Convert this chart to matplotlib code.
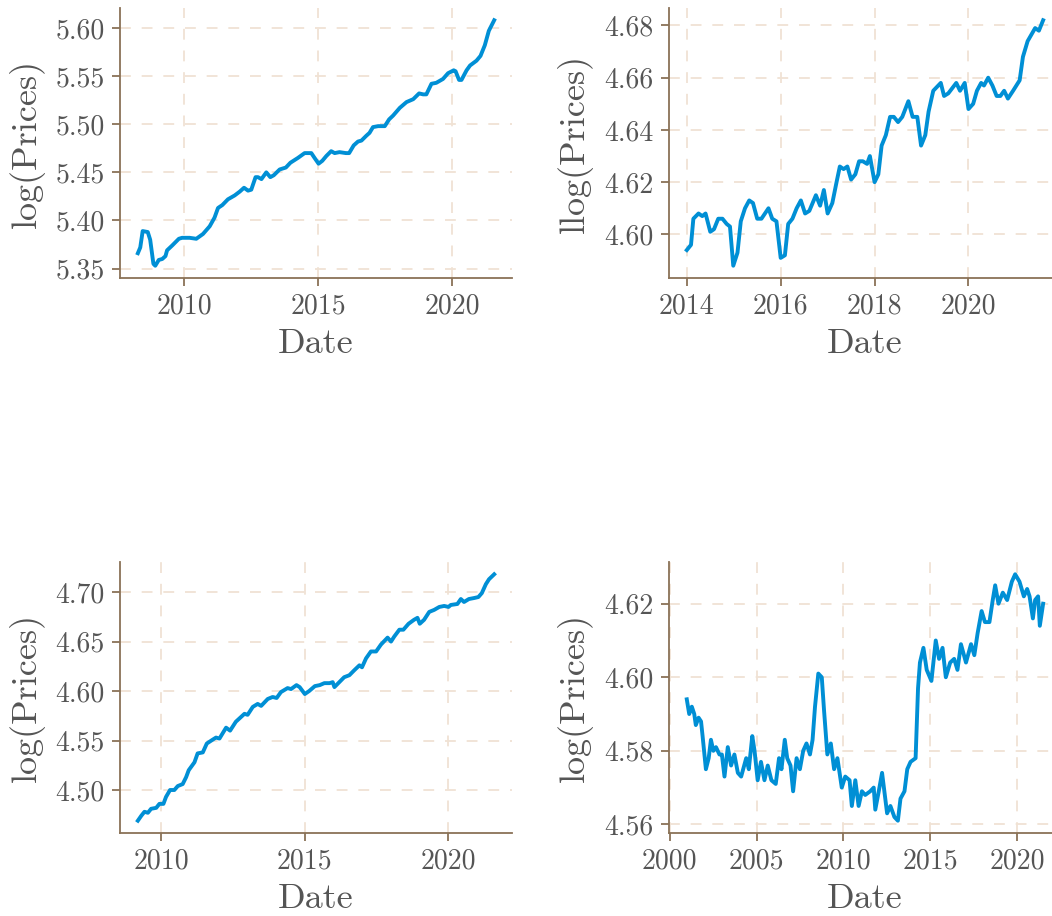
import numpy as np
import matplotlib
matplotlib.use("Agg")
import matplotlib.pyplot as plt
from matplotlib.ticker import FormatStrFormatter

plt.rcParams['font.family'] = 'serif'
plt.rcParams['font.serif'] = ['cmr10', 'DejaVu Serif']
plt.rcParams['axes.formatter.use_mathtext'] = True

# top-left series (decimal year, log price)
tl_x = [2008.28, 2008.37, 2008.46, 2008.65, 2008.74, 2008.86, 2008.93, 2009.06, 2009.19,
        2009.31, 2009.37, 2009.56, 2009.81, 2009.93, 2010.21, 2010.46, 2010.71, 2010.96,
        2011.14, 2011.27, 2011.43, 2011.64, 2011.89, 2012.08, 2012.24, 2012.39, 2012.51,
        2012.67, 2012.76, 2012.89, 2013.07, 2013.22, 2013.35, 2013.57, 2013.80, 2013.97,
        2014.25, 2014.50, 2014.75, 2014.87, 2015.02, 2015.16, 2015.31, 2015.49, 2015.62,
        2015.80, 2016.04, 2016.16, 2016.33, 2016.49, 2016.62, 2016.80, 2016.92, 2017.05,
        2017.24, 2017.49, 2017.65, 2017.80, 2018.05, 2018.30, 2018.55, 2018.77, 2018.92,
        2019.04, 2019.23, 2019.41, 2019.66, 2019.85, 2020.06, 2020.13, 2020.26, 2020.35,
        2020.54, 2020.67, 2020.91, 2021.06, 2021.22, 2021.37, 2021.57]
tl_y = [5.366, 5.372, 5.389, 5.388, 5.380, 5.355, 5.353, 5.359, 5.360,
        5.363, 5.369, 5.374, 5.381, 5.382, 5.382, 5.381, 5.386, 5.394,
        5.403, 5.413, 5.416, 5.422, 5.426, 5.430, 5.434, 5.431, 5.432,
        5.445, 5.445, 5.443, 5.450, 5.445, 5.447, 5.453, 5.455, 5.460,
        5.465, 5.470, 5.470, 5.465, 5.459, 5.462, 5.467, 5.472, 5.470,
        5.471, 5.470, 5.470, 5.478, 5.482, 5.483, 5.488, 5.491, 5.497,
        5.498, 5.498, 5.505, 5.509, 5.517, 5.523, 5.526, 5.532, 5.531,
        5.531, 5.542, 5.543, 5.547, 5.553, 5.556, 5.555, 5.546, 5.546,
        5.556, 5.561, 5.566, 5.571, 5.582, 5.597, 5.608]

# top-right series
tr_x = [2014.00, 2014.09, 2014.14, 2014.25, 2014.33, 2014.40, 2014.50, 2014.58, 2014.67,
        2014.76, 2014.85, 2014.92, 2014.99, 2015.08, 2015.15, 2015.24, 2015.33, 2015.41,
        2015.50, 2015.59, 2015.74, 2015.82, 2015.91, 2016.00, 2016.09, 2016.16, 2016.25,
        2016.34, 2016.43, 2016.52, 2016.61, 2016.75, 2016.84, 2016.92, 2017.00, 2017.10,
        2017.19, 2017.26, 2017.34, 2017.42, 2017.50, 2017.59, 2017.67, 2017.75, 2017.84,
        2017.90, 2018.00, 2018.08, 2018.15, 2018.24, 2018.33, 2018.41, 2018.50, 2018.59,
        2018.72, 2018.81, 2018.91, 2018.99, 2019.08, 2019.15, 2019.25, 2019.41, 2019.48,
        2019.57, 2019.74, 2019.82, 2019.92, 2020.00, 2020.10, 2020.18, 2020.27, 2020.33,
        2020.42, 2020.51, 2020.60, 2020.68, 2020.76, 2020.84, 2020.95, 2021.09, 2021.16,
        2021.26, 2021.42, 2021.50, 2021.59]
tr_y = [4.594, 4.596, 4.606, 4.608, 4.607, 4.608, 4.601, 4.602, 4.606,
        4.606, 4.604, 4.603, 4.588, 4.593, 4.605, 4.610, 4.613, 4.612,
        4.606, 4.606, 4.610, 4.606, 4.605, 4.591, 4.592, 4.604, 4.606,
        4.610, 4.613, 4.608, 4.609, 4.615, 4.611, 4.617, 4.608, 4.612,
        4.620, 4.626, 4.625, 4.626, 4.621, 4.623, 4.628, 4.628, 4.627,
        4.630, 4.620, 4.623, 4.634, 4.638, 4.645, 4.645, 4.643, 4.645,
        4.651, 4.645, 4.645, 4.634, 4.638, 4.647, 4.655, 4.658, 4.653,
        4.654, 4.658, 4.655, 4.658, 4.648, 4.650, 4.655, 4.658, 4.657,
        4.660, 4.657, 4.653, 4.653, 4.655, 4.652, 4.655, 4.659, 4.668,
        4.674, 4.679, 4.678, 4.682]

# bottom-left series
bl_x = [2009.19, 2009.31, 2009.42, 2009.54, 2009.65, 2009.83, 2009.94, 2010.08, 2010.17,
        2010.31, 2010.46, 2010.58, 2010.75, 2010.87, 2010.96, 2011.16, 2011.27, 2011.45,
        2011.59, 2011.80, 2011.91, 2012.03, 2012.26, 2012.40, 2012.60, 2012.90, 2013.01,
        2013.19, 2013.36, 2013.48, 2013.71, 2013.88, 2014.02, 2014.17, 2014.40, 2014.52,
        2014.71, 2014.82, 2015.00, 2015.15, 2015.35, 2015.52, 2015.68, 2015.86, 2015.97,
        2016.03, 2016.20, 2016.37, 2016.55, 2016.72, 2016.90, 2016.99, 2017.13, 2017.30,
        2017.48, 2017.65, 2017.88, 2018.00, 2018.11, 2018.29, 2018.43, 2018.61, 2018.80,
        2018.92, 2019.00, 2019.15, 2019.33, 2019.50, 2019.68, 2019.85, 2020.00, 2020.08,
        2020.31, 2020.43, 2020.54, 2020.71, 2020.89, 2021.04, 2021.16, 2021.30, 2021.41,
        2021.59]
bl_y = [4.469, 4.474, 4.478, 4.477, 4.481, 4.482, 4.486, 4.486, 4.493,
        4.500, 4.500, 4.504, 4.506, 4.513, 4.520, 4.528, 4.537, 4.538,
        4.547, 4.551, 4.553, 4.552, 4.563, 4.560, 4.569, 4.577, 4.576,
        4.584, 4.587, 4.585, 4.592, 4.594, 4.593, 4.599, 4.603, 4.602,
        4.606, 4.604, 4.597, 4.600, 4.605, 4.606, 4.608, 4.608, 4.609,
        4.604, 4.609, 4.614, 4.616, 4.621, 4.626, 4.624, 4.633, 4.640,
        4.640, 4.647, 4.654, 4.650, 4.655, 4.662, 4.662, 4.668, 4.672,
        4.674, 4.668, 4.672, 4.680, 4.682, 4.685, 4.686, 4.685, 4.687,
        4.688, 4.693, 4.690, 4.693, 4.694, 4.695, 4.699, 4.708, 4.713,
        4.718]

# bottom-right series
br_x = [2000.98, 2001.12, 2001.27, 2001.41, 2001.50, 2001.66, 2001.80, 2001.89, 2002.08,
        2002.24, 2002.37, 2002.51, 2002.66, 2002.86, 2003.00, 2003.15, 2003.34, 2003.53,
        2003.72, 2003.92, 2004.11, 2004.40, 2004.55, 2004.75, 2004.88, 2005.06, 2005.25,
        2005.45, 2005.64, 2005.85, 2006.10, 2006.29, 2006.43, 2006.62, 2006.76, 2006.95,
        2007.10, 2007.30, 2007.49, 2007.68, 2007.87, 2008.07, 2008.22, 2008.36, 2008.55,
        2008.75, 2008.88, 2009.07, 2009.27, 2009.46, 2009.65, 2009.90, 2010.10, 2010.35,
        2010.48, 2010.68, 2010.87, 2011.06, 2011.25, 2011.54, 2011.74, 2011.83, 2012.03,
        2012.22, 2012.51, 2012.70, 2012.93, 2013.13, 2013.28, 2013.51, 2013.67, 2013.86,
        2014.15, 2014.29, 2014.40, 2014.60, 2014.79, 2015.06, 2015.31, 2015.50, 2015.70,
        2015.89, 2016.14, 2016.37, 2016.56, 2016.76, 2017.05, 2017.34, 2017.53, 2017.72,
        2017.95, 2018.14, 2018.40, 2018.59, 2018.73, 2018.92, 2019.17, 2019.42, 2019.69,
        2019.88, 2020.13, 2020.38, 2020.57, 2020.71, 2020.90, 2021.03, 2021.20, 2021.30,
        2021.49]
br_y = [4.594, 4.590, 4.592, 4.590, 4.587, 4.589, 4.588, 4.584, 4.575,
        4.578, 4.583, 4.580, 4.581, 4.579, 4.579, 4.573, 4.581, 4.576,
        4.579, 4.574, 4.573, 4.578, 4.575, 4.584, 4.580, 4.572, 4.577,
        4.572, 4.576, 4.572, 4.571, 4.578, 4.575, 4.583, 4.578, 4.576,
        4.569, 4.578, 4.575, 4.580, 4.582, 4.579, 4.583, 4.592, 4.601,
        4.600, 4.591, 4.579, 4.582, 4.575, 4.578, 4.570, 4.573, 4.572,
        4.565, 4.572, 4.565, 4.569, 4.568, 4.569, 4.570, 4.564, 4.569,
        4.574, 4.563, 4.565, 4.562, 4.561, 4.567, 4.569, 4.575, 4.577,
        4.578, 4.597, 4.604, 4.608, 4.602, 4.599, 4.610, 4.605, 4.608,
        4.600, 4.604, 4.605, 4.602, 4.609, 4.604, 4.609, 4.606, 4.612,
        4.618, 4.615, 4.615, 4.621, 4.625, 4.620, 4.623, 4.621, 4.626,
        4.628, 4.626, 4.622, 4.624, 4.622, 4.616, 4.621, 4.622, 4.614,
        4.620]

panels = [
    (tl_x, tl_y, 'log(Prices)', [2010, 2015, 2020], [5.35, 5.40, 5.45, 5.50, 5.55, 5.60], '%.2f'),
    (tr_x, tr_y, 'llog(Prices)', [2014, 2016, 2018, 2020], [4.60, 4.62, 4.64, 4.66, 4.68], '%.2f'),
    (bl_x, bl_y, 'log(Prices)', [2010, 2015, 2020], [4.50, 4.55, 4.60, 4.65, 4.70], '%.2f'),
    (br_x, br_y, 'log(Prices)', [2000, 2005, 2010, 2015, 2020], [4.56, 4.58, 4.60, 4.62], '%.2f'),
]
boxes = [
    [0.1141, 0.6965, 0.3726, 0.2948],
    [0.6359, 0.6965, 0.3726, 0.2948],
    [0.1141, 0.0906, 0.3726, 0.2959],
    [0.6359, 0.0906, 0.3726, 0.2959],
]

text_col = '#555555'
spine_col = '#8a7257'
grid_col = '#f0e2d4'
line_col = '#008fd5'

fig = plt.figure(figsize=(10.52, 9.16), dpi=100)
for (x, y, ylab, xt, yt, fmt), box in zip(panels, boxes):
    ax = fig.add_axes(box)
    ax.plot(x, y, color=line_col, lw=2.8, zorder=3)
    ax.set_xticks(xt)
    ax.set_yticks(yt)
    ax.xaxis.set_major_formatter(FormatStrFormatter('%d'))
    ax.yaxis.set_major_formatter(FormatStrFormatter(fmt))
    ax.grid(True, color=grid_col, lw=1.3, linestyle=(0, (6, 6)))
    ax.set_axisbelow(True)
    for s in ['top', 'right']:
        ax.spines[s].set_visible(False)
    for s in ['left', 'bottom']:
        ax.spines[s].set_color(spine_col)
        ax.spines[s].set_linewidth(1.3)
    ax.tick_params(colors=spine_col, labelcolor=text_col, labelsize=20, length=6, width=1.3, pad=5)
    ax.set_xlabel('Date', fontsize=26, color=text_col, labelpad=6)
    ax.set_ylabel(ylab, fontsize=26, color=text_col, labelpad=8)

fig.savefig('out.png', dpi=100)
